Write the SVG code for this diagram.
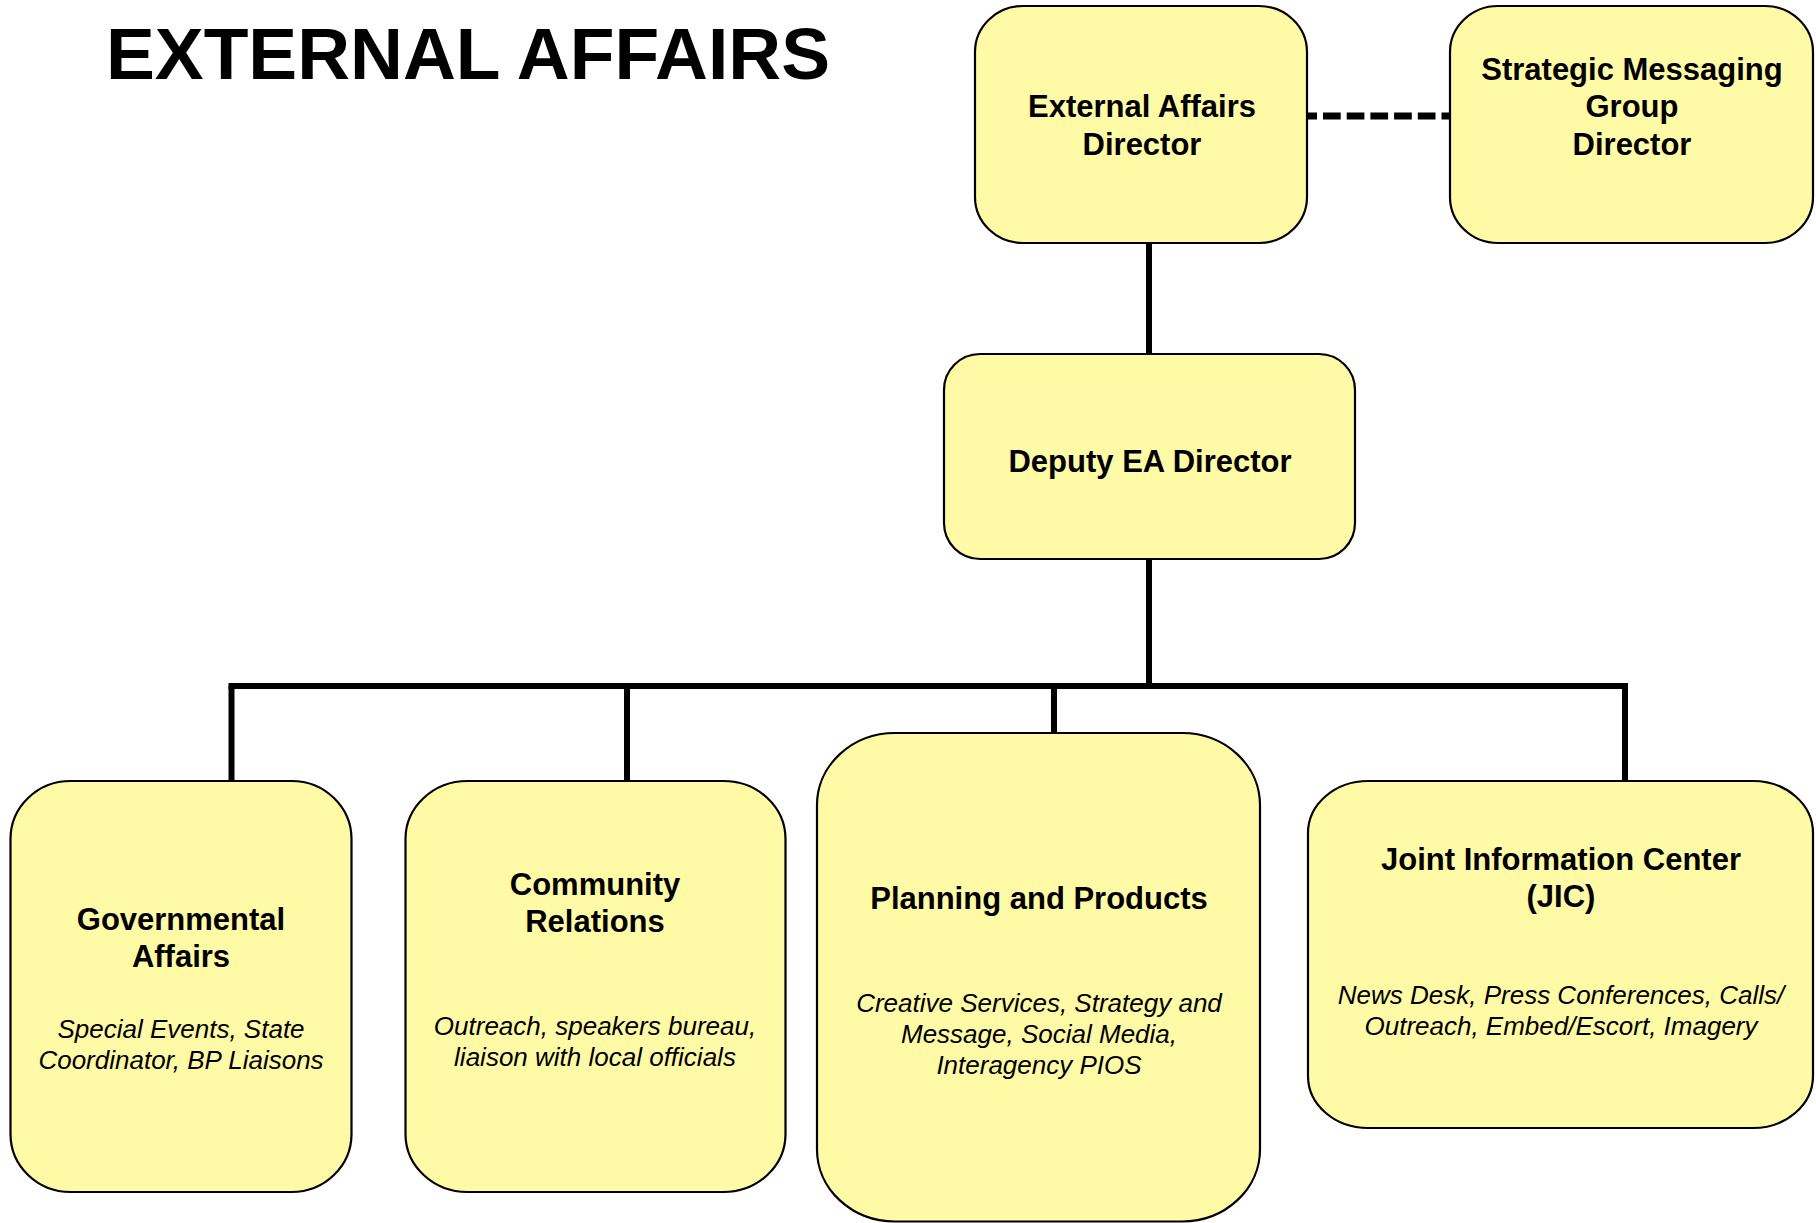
<svg xmlns="http://www.w3.org/2000/svg" width="1816" height="1223" viewBox="0 0 1816 1223">
<style>
.box{fill:#FFFAA6;stroke:#000;stroke-width:2.2}
.t{font-family:"Liberation Sans",Arial,sans-serif;font-weight:bold;font-size:31px;fill:#000;text-anchor:middle}
.i{font-family:"Liberation Sans",Arial,sans-serif;font-style:italic;font-size:26px;fill:#000;text-anchor:middle}
.ln{stroke:#000;stroke-width:6;fill:none}
.dash{stroke:#000;stroke-width:7;fill:none;stroke-dasharray:17.7 6;stroke-dashoffset:7.7}
.title{font-family:"Liberation Sans",Arial,sans-serif;font-weight:bold;font-size:73px;fill:#000}
</style>
<rect width="1816" height="1223" fill="#fff"/>
<text class="title" x="106" y="79" textLength="724" lengthAdjust="spacingAndGlyphs">EXTERNAL AFFAIRS</text>
<g id="connectors">
<line class="ln" x1="1149" y1="243" x2="1149" y2="354"/>
<line class="ln" x1="1149" y1="559" x2="1149" y2="686"/>
<line class="ln" x1="228.5" y1="686" x2="1628" y2="686"/>
<line class="ln" x1="231.5" y1="686" x2="231.5" y2="781"/>
<line class="ln" x1="627" y1="686" x2="627" y2="781"/>
<line class="ln" x1="1054" y1="686" x2="1054" y2="733"/>
<line class="ln" x1="1625" y1="686" x2="1625" y2="781"/>
<line class="dash" x1="1307" y1="116" x2="1450" y2="116"/>
</g>
<g id="ea-director">
<rect class="box" x="975" y="6" width="332" height="237" rx="48" ry="46"/>
<text class="t" x="1142" y="117">External Affairs</text>
<text class="t" x="1142" y="155">Director</text>
</g>
<g id="strategic-messaging">
<rect class="box" x="1450" y="6" width="363" height="237" rx="48" ry="46"/>
<text class="t" x="1632" y="80">Strategic Messaging</text>
<text class="t" x="1632" y="117">Group</text>
<text class="t" x="1632" y="155">Director</text>
</g>
<g id="deputy">
<rect class="box" x="944" y="354" width="411" height="205" rx="36" ry="36"/>
<text class="t" x="1150" y="472">Deputy EA Director</text>
</g>
<g id="governmental">
<rect class="box" x="10.5" y="781" width="341" height="411" rx="60" ry="58"/>
<text class="t" x="181" y="930">Governmental</text>
<text class="t" x="181" y="967">Affairs</text>
<text class="i" x="181" y="1038">Special Events, State</text>
<text class="i" x="181" y="1069">Coordinator, BP Liaisons</text>
</g>
<g id="community">
<rect class="box" x="405.5" y="781" width="380" height="411" rx="62" ry="58"/>
<text class="t" x="595" y="895">Community</text>
<text class="t" x="595" y="932">Relations</text>
<text class="i" x="595" y="1035">Outreach, speakers bureau,</text>
<text class="i" x="595" y="1066">liaison with local officials</text>
</g>
<g id="planning">
<rect class="box" x="817" y="733" width="443" height="488.5" rx="78" ry="72"/>
<text class="t" x="1039" y="909">Planning and Products</text>
<text class="i" x="1039" y="1012">Creative Services, Strategy and</text>
<text class="i" x="1039" y="1043">Message, Social Media,</text>
<text class="i" x="1039" y="1074">Interagency PIOS</text>
</g>
<g id="jic">
<rect class="box" x="1308" y="781" width="505" height="347" rx="60" ry="52"/>
<text class="t" x="1561" y="870">Joint Information Center</text>
<text class="t" x="1561" y="907">(JIC)</text>
<text class="i" x="1561" y="1004">News Desk, Press Conferences, Calls/</text>
<text class="i" x="1561" y="1035">Outreach, Embed/Escort, Imagery</text>
</g>
</svg>
